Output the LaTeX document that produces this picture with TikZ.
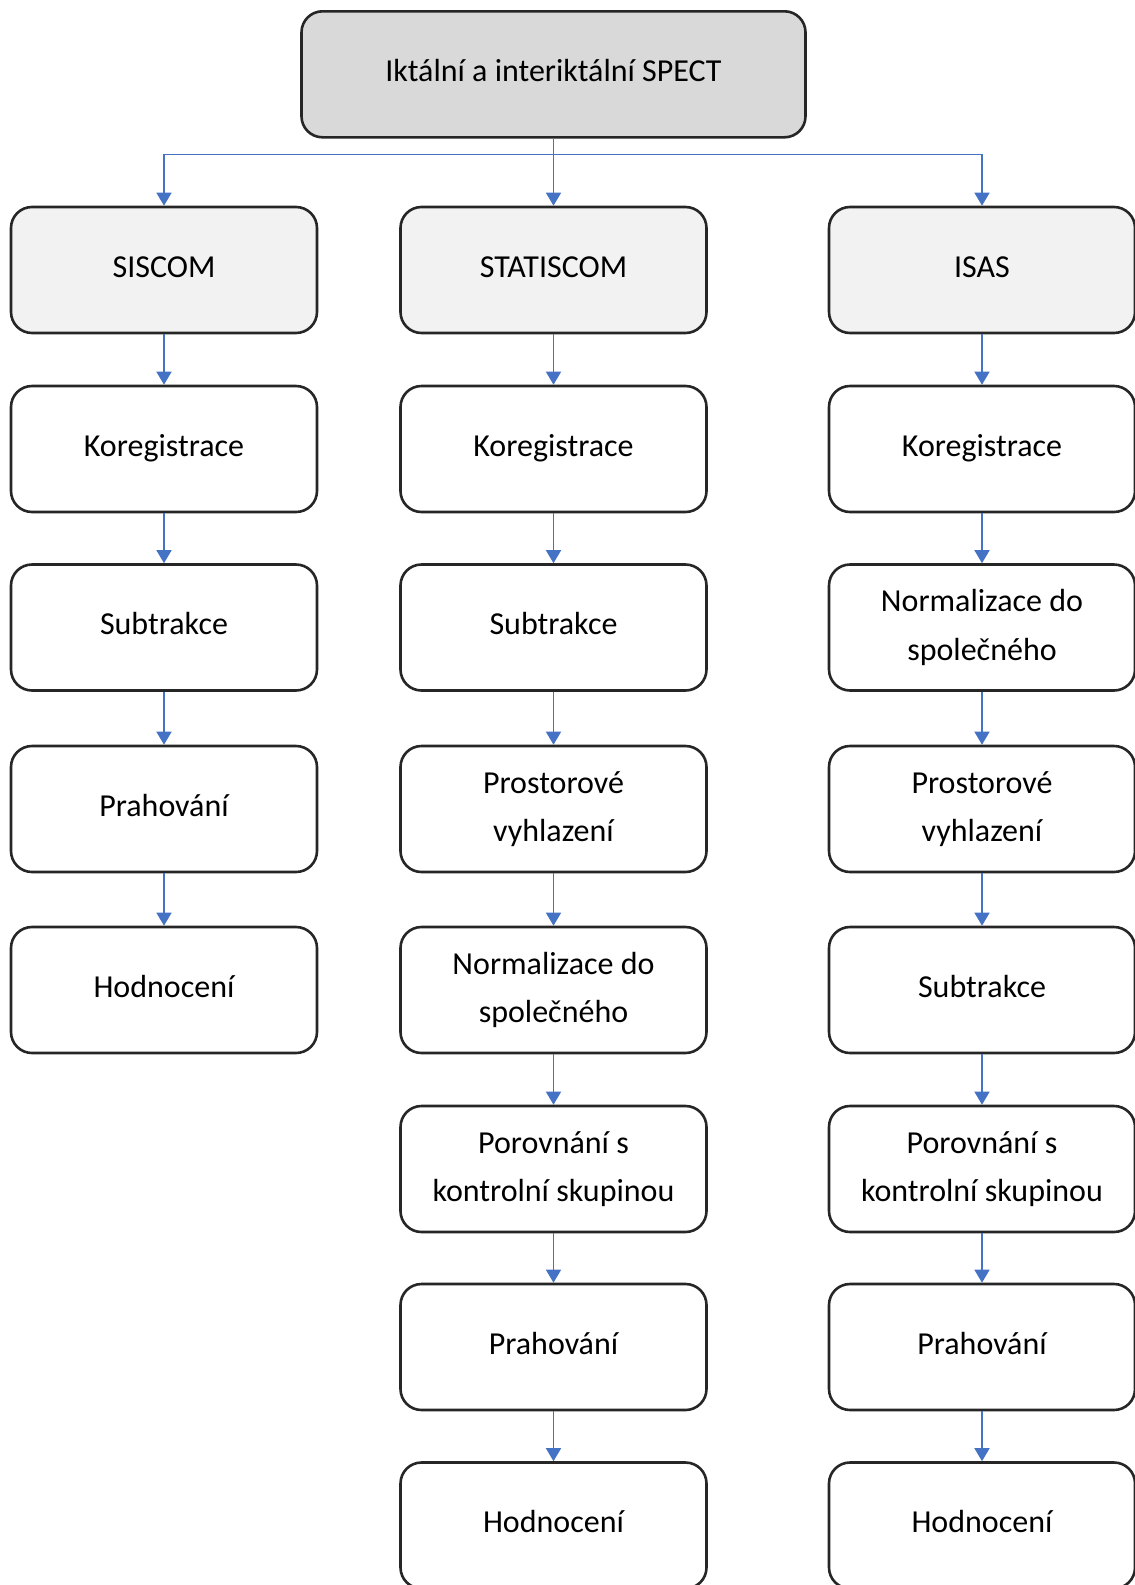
\documentclass[tikz,border=0pt]{standalone}
\usepackage{fontspec}
\setmainfont{Carlito}
\usetikzlibrary{arrows.meta}
\definecolor{conblue}{HTML}{4472C4}
\definecolor{boxline}{HTML}{262626}
\definecolor{topfill}{HTML}{D9D9D9}
\definecolor{headfill}{HTML}{F2F2F2}
\begin{document}
\begin{tikzpicture}[x=1pt,y=-1pt,
  stepbox/.style={draw=boxline, line width=2.6pt, rounded corners=21pt, fill=white,
    minimum width=306pt, minimum height=126pt, inner sep=2pt, align=center,
    font=\fontsize{32}{48.5}\selectfont, text=black},
  oneline/.style={text height=24pt, text depth=10pt},
  headbox/.style={stepbox, oneline, fill=headfill},
  topbox/.style={stepbox, oneline, fill=topfill, minimum width=504pt},
  conn/.style={draw=conblue, line width=1.5pt},
  arr/.style={conn, -{Triangle[length=13pt,width=15pt]}}
]
\useasboundingbox (0,0) rectangle (1135,1585);
% top
\node[topbox] (top) at (553.5,74.3) {Iktální a interiktální SPECT};
\coordinate (split) at (553.5,154.6);
% column 1
\node[headbox] (a1) at (164,270) {SISCOM};
\node[stepbox,oneline] (a2) at (164,449) {Koregistrace};
\node[stepbox,oneline] (a3) at (164,627.5) {Subtrakce};
\node[stepbox,oneline] (a4) at (164,809) {Prahování};
\node[stepbox,oneline] (a5) at (164,990) {Hodnocení};
% column 2
\node[headbox] (b1) at (553.5,270) {STATISCOM};
\node[stepbox,oneline] (b2) at (553.5,449) {Koregistrace};
\node[stepbox,oneline] (b3) at (553.5,627.5) {Subtrakce};
\node[stepbox] (b4) at (553.5,809) {Prostorové\\vyhlazení};
\node[stepbox] (b5) at (553.5,990) {Normalizace do\\společného};
\node[stepbox] (b6) at (553.5,1169) {Porovnání s\\kontrolní skupinou};
\node[stepbox,oneline] (b7) at (553.5,1347) {Prahování};
\node[stepbox,oneline] (b8) at (553.5,1525.5) {Hodnocení};
% column 3
\node[headbox] (c1) at (982,270) {ISAS};
\node[stepbox,oneline] (c2) at (982,449) {Koregistrace};
\node[stepbox] (c3) at (982,627.5) {Normalizace do\\společného};
\node[stepbox] (c4) at (982,809) {Prostorové\\vyhlazení};
\node[stepbox,oneline] (c5) at (982,990) {Subtrakce};
\node[stepbox] (c6) at (982,1169) {Porovnání s\\kontrolní skupinou};
\node[stepbox,oneline] (c7) at (982,1347) {Prahování};
\node[stepbox,oneline] (c8) at (982,1525.5) {Hodnocení};
% connectors from top
\draw[conn] (top.south) -- (split);
\draw[arr] (split) -| (a1.north);
\draw[arr] (split) -- (b1.north);
\draw[arr] (split) -| (c1.north);
% column chains
\draw[arr] (a1) -- (a2);
\draw[arr] (a2) -- (a3);
\draw[arr] (a3) -- (a4);
\draw[arr] (a4) -- (a5);
\draw[arr] (b1) -- (b2);
\draw[arr] (b2) -- (b3);
\draw[arr] (b3) -- (b4);
\draw[arr] (b4) -- (b5);
\draw[arr] (b5) -- (b6);
\draw[arr] (b6) -- (b7);
\draw[arr] (b7) -- (b8);
\draw[arr] (c1) -- (c2);
\draw[arr] (c2) -- (c3);
\draw[arr] (c3) -- (c4);
\draw[arr] (c4) -- (c5);
\draw[arr] (c5) -- (c6);
\draw[arr] (c6) -- (c7);
\draw[arr] (c7) -- (c8);
\end{tikzpicture}
\end{document}
